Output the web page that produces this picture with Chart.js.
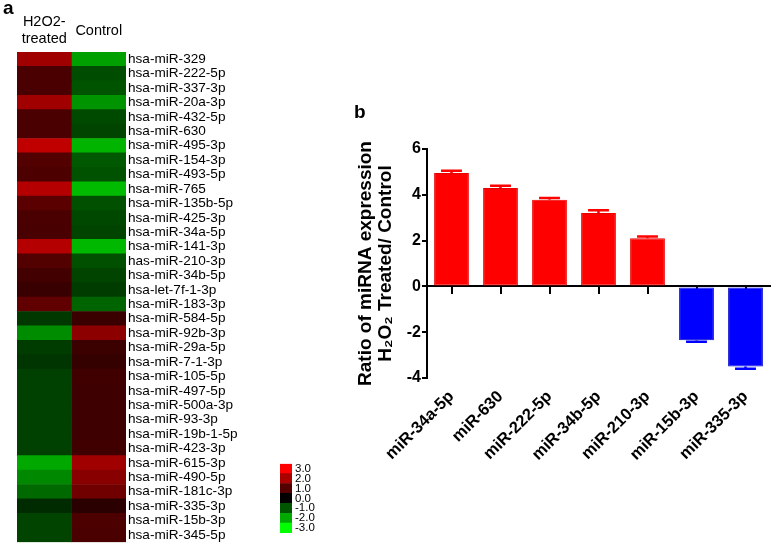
<!DOCTYPE html>
<html>
<head>
<meta charset="utf-8">
<script src="https://cdn.jsdelivr.net/npm/chart.js@4.4.0/dist/chart.umd.min.js"></script>
<style>
  body { margin: 0; background: #fff; width: 778px; height: 551px; position: relative; overflow: hidden; }
  canvas { position: absolute; }
</style>
</head>
<body>
<canvas id="heat" width="260" height="551" style="left:0px;top:0px"></canvas>
<canvas id="key" width="60" height="90" style="left:270px;top:455px"></canvas>
<canvas id="bars" width="438" height="471" style="left:340px;top:80px"></canvas>
<script>
const family = '"Liberation Sans", Arial, sans-serif';

// panel a: heatmap
const columnHeaders = [['H2O2-', 'treated'], 'Control'];
const mirnas = [
  'hsa-miR-329', 'hsa-miR-222-5p', 'hsa-miR-337-3p', 'hsa-miR-20a-3p', 'hsa-miR-432-5p',
  'hsa-miR-630', 'hsa-miR-495-3p', 'hsa-miR-154-3p', 'hsa-miR-493-5p', 'hsa-miR-765',
  'hsa-miR-135b-5p', 'hsa-miR-425-3p', 'hsa-miR-34a-5p', 'hsa-miR-141-3p', 'has-miR-210-3p',
  'hsa-miR-34b-5p', 'hsa-let-7f-1-3p', 'hsa-miR-183-3p', 'hsa-miR-584-5p', 'hsa-miR-92b-3p',
  'hsa-miR-29a-5p', 'hsa-miR-7-1-3p', 'hsa-miR-105-5p', 'hsa-miR-497-5p', 'hsa-miR-500a-3p',
  'hsa-miR-93-3p', 'hsa-miR-19b-1-5p', 'hsa-miR-423-3p', 'hsa-miR-615-3p', 'hsa-miR-490-5p',
  'hsa-miR-181c-3p', 'hsa-miR-335-3p', 'hsa-miR-15b-3p', 'hsa-miR-345-5p'
];
const treated = [
  1.88, 0.87, 0.87, 1.88, 0.87, 0.87, 2.26, 0.96, 0.9, 2.12,
  1.06, 0.87, 0.85, 2.12, 0.96, 0.78, 0.66, 1.13, -0.66, -1.65,
  -0.7, -0.61, -0.75, -0.75, -0.75, -0.75, -0.75, -0.75, -1.98, -1.6,
  -1.25, -0.5, -0.8, -0.8
];
const control = [
  -1.88, -0.89, -0.99, -1.74, -0.87, -0.8, -2.12, -1.04, -0.95, -2.2,
  -0.94, -0.85, -0.8, -2.16, -0.94, -0.8, -0.7, -1.18, 0.68, 1.65,
  0.7, 0.61, 0.75, 0.73, 0.73, 0.73, 0.73, 0.75, 1.88, 1.6,
  1.32, 0.5, 0.9, 0.87
];
const keyValues = [-3, -2, -1, 0, 1, 2, 3];

// panel b: bar chart
const barLabels = ['miR-34a-5p', 'miR-630', 'miR-222-5p', 'miR-34b-5p', 'miR-210-3p', 'miR-15b-3p', 'miR-335-3p'];
const ratios = [4.95, 4.3, 3.78, 3.2, 2.1, -2.35, -3.5];
const errors = [0.1, 0.09, 0.08, 0.12, 0.08, 0.07, 0.1];
const yTicks = [-4, -2, 0, 2, 4, 6];
const yTitle = ['Ratio of miRNA expression', 'H\u2082O\u2082 Treated/ Control'];

Chart.defaults.font.family = family;
Chart.defaults.color = '#000';

function cellColor(v) {
  const c = Math.round(Math.min(Math.abs(v), 3) / 3 * 255);
  return v >= 0 ? `rgb(${c},0,0)` : `rgb(0,${c},0)`;
}

function panelLetter(text, x, y) {
  return {
    id: 'letter' + text,
    afterDraw(chart) {
      const c = chart.ctx;
      c.save();
      c.font = 'bold 19px ' + family;
      c.fillStyle = '#000';
      c.fillText(text, x, y);
      c.restore();
    }
  };
}

const errorBars = {
  id: 'errorBars',
  afterDatasetsDraw(chart) {
    const ctx = chart.ctx;
    const y = chart.scales.y;
    chart.getDatasetMeta(0).data.forEach((bar, i) => {
      const v = ratios[i];
      const tip = y.getPixelForValue(v + Math.sign(v) * errors[i]);
      const half = bar.width * 0.3;
      ctx.save();
      ctx.strokeStyle = v >= 0 ? '#ff0000' : '#0000ff';
      ctx.lineWidth = 2.5;
      ctx.beginPath();
      ctx.moveTo(bar.x, bar.y);
      ctx.lineTo(bar.x, tip);
      ctx.moveTo(bar.x - half, tip);
      ctx.lineTo(bar.x + half, tip);
      ctx.stroke();
      ctx.restore();
    });
  }
};

new Chart(document.getElementById('heat'), {
  type: 'bar',
  data: {
    labels: mirnas,
    datasets: [
      { data: treated.map(() => 1), backgroundColor: treated.map(cellColor) },
      { data: control.map(() => 1), backgroundColor: control.map(cellColor) }
    ]
  },
  options: {
    indexAxis: 'y',
    responsive: false,
    animation: false,
    layout: { padding: { left: 17, top: 0, right: 0, bottom: 3 } },
    plugins: { legend: { display: false }, tooltip: { enabled: false } },
    datasets: { bar: { barPercentage: 1, categoryPercentage: 1, borderWidth: 0 } },
    scales: {
      x: {
        type: 'linear', position: 'top', stacked: true, min: 0, max: 2,
        grid: { display: false, drawTicks: false }, border: { display: false },
        afterBuildTicks: s => { s.ticks = columnHeaders.map((_, i) => ({ value: i + 0.5 })); },
        afterFit: s => { s.height = 52; },
        ticks: {
          callback: (v, i) => columnHeaders[i], autoSkip: false, maxRotation: 0,
          font: { size: 14.5, lineHeight: 1.15 }, padding: 13, crossAlign: 'center'
        }
      },
      y: {
        position: 'right', stacked: true,
        grid: { display: false, drawTicks: false }, border: { display: false },
        afterFit: s => { s.width = 134; },
        ticks: { autoSkip: false, font: { size: 13.6, lineHeight: 1 }, padding: 2 }
      }
    }
  },
  plugins: [panelLetter('a', 3, 14)]
});

new Chart(document.getElementById('key'), {
  type: 'bar',
  data: {
    labels: [''],
    datasets: keyValues.map(v => ({ data: [[v - 0.5, v + 0.5]], backgroundColor: cellColor(v) }))
  },
  options: {
    responsive: false,
    animation: false,
    layout: { padding: { left: 10, top: 8, right: 0, bottom: 12 } },
    plugins: { legend: { display: false }, tooltip: { enabled: false } },
    datasets: { bar: { barPercentage: 1, categoryPercentage: 1, borderWidth: 0 } },
    scales: {
      x: { display: false, stacked: true },
      y: {
        position: 'right', min: -3.5, max: 3.5,
        grid: { display: false, drawTicks: false }, border: { display: false },
        afterBuildTicks: s => { s.ticks = keyValues.map(v => ({ value: v })); },
        afterFit: s => { s.width = 38; },
        ticks: { callback: v => v.toFixed(1), font: { size: 11.5, lineHeight: 1 }, padding: 3, autoSkip: false }
      }
    }
  }
});

new Chart(document.getElementById('bars'), {
  type: 'bar',
  data: {
    labels: barLabels,
    datasets: [{
      data: ratios,
      xAxisID: 'x',
      backgroundColor: ratios.map(v => v >= 0 ? '#ff0000' : '#0000ff'),
      borderColor: ratios.map(v => v >= 0 ? '#e80000' : '#0000cc'),
      borderWidth: 1,
      borderSkipped: false,
      barPercentage: 0.71,
      categoryPercentage: 1
    }]
  },
  options: {
    responsive: false,
    animation: false,
    layout: { padding: { left: 0, top: 69, right: 8, bottom: 0 } },
    plugins: { legend: { display: false }, tooltip: { enabled: false } },
    scales: {
      x: {
        type: 'category', position: { y: 0 }, offset: true, z: 1,
        grid: { drawOnChartArea: false, offset: false, color: '#000', lineWidth: 2, tickLength: 7 },
        border: { color: '#000', width: 2 },
        ticks: { display: false }
      },
      x2: {
        type: 'category', labels: barLabels, position: 'bottom', offset: true,
        grid: { display: false }, border: { display: false },
        afterFit: s => { s.height = 173; },
        ticks: {
          minRotation: 45, maxRotation: 45, autoSkip: false, padding: 1,
          font: { size: 16.5, weight: 'bold' }
        }
      },
      y: {
        min: -4, max: 6,
        afterBuildTicks: s => { s.ticks = yTicks.map(v => ({ value: v })); },
        afterFit: s => { s.width = 87; },
        grid: { drawOnChartArea: false, color: '#000', lineWidth: 2, tickLength: 5 },
        border: { color: '#000', width: 2 },
        ticks: { font: { size: 16, weight: 'bold' }, padding: 1 },
        title: {
          display: true, text: yTitle, color: '#000',
          font: { size: 19, weight: 'bold', lineHeight: 1.05 },
          padding: { top: 16, bottom: 0 }
        }
      }
    }
  },
  plugins: [panelLetter('b', 14, 38), errorBars]
});
</script>
</body>
</html>
